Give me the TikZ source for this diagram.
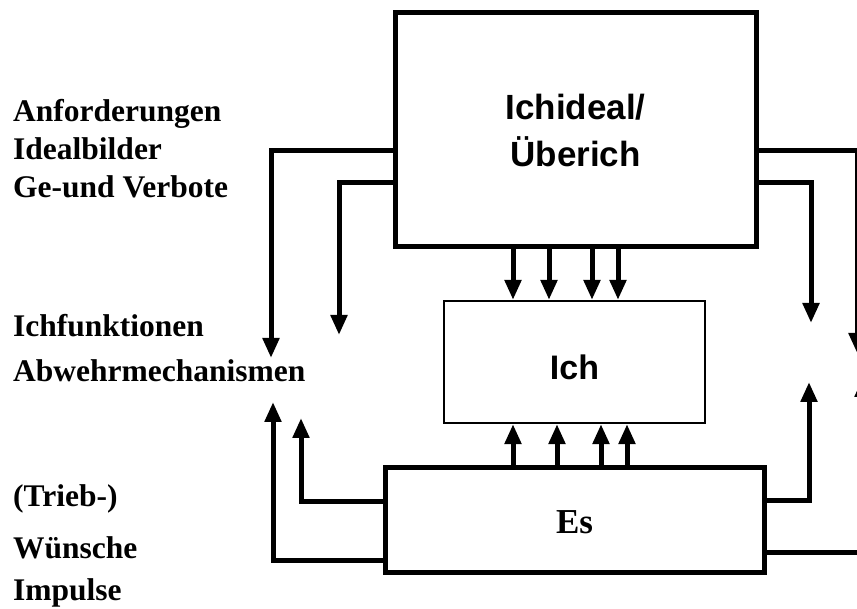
\documentclass[tikz,border=0pt]{standalone}
\usepackage{fontspec}
\setmainfont{Liberation Serif}
\newfontfamily\serifw{Liberation Serif}
\newfontfamily\sansw{Liberation Sans}
\usetikzlibrary{arrows.meta}
\begin{document}
\begin{tikzpicture}[x=1pt,y=-1pt,
  conn/.style={line width=5pt},
  arr/.style={conn,-{Triangle[width=16pt,length=20pt]}},
  lab/.style={anchor=base west,inner sep=0pt,font=\serifw\bfseries\fontsize{31.5}{34}\selectfont},
  box/.style={draw,inner sep=0pt}
]
\clip (0,0) rectangle (857,609);
\fill[white] (0,0) rectangle (857,609);

% boxes
\node[box,line width=5pt,minimum width=361pt,minimum height=234pt,align=center,
  font=\sansw\bfseries\fontsize{35}{47}\selectfont] (uber) at (575.5,130) {Ichideal/\\Überich};
\node[box,line width=2.2pt,minimum width=261pt,minimum height=122pt,text height=36pt,text depth=0pt,
  font=\sansw\bfseries\fontsize{34}{40}\selectfont] (ich) at (574.5,362) {Ich};
\node[box,line width=5pt,minimum width=379pt,minimum height=105pt,text height=27pt,text depth=0pt,
  font=\serifw\bfseries\fontsize{35}{40}\selectfont] (es) at (574.5,519.5) {Es};

% labels
\node[lab] (t1) at (13,122) {Anforderungen};
\node[lab] (t2) at (13,160) {Idealbilder};
\node[lab] (t3) at (13,198) {Ge-und Verbote};
\node[lab] (t4) at (13,337) {Ichfunktionen};
\node[lab] (t5) at (13,382) {Abwehrmechanismen};
\node[lab] (t6) at (13,506) {(Trieb-)};
\node[lab] (t7) at (13,558) {Wünsche};
\node[lab] (t8) at (13,600) {Impulse};

% columns between boxes
\coordinate (d1) at (513,0);
\coordinate (d2) at (549,0);
\coordinate (d3) at (592,0);
\coordinate (d4) at (618,0);
\coordinate (u1) at (513,0);
\coordinate (u2) at (557,0);
\coordinate (u3) at (601,0);
\coordinate (u4) at (627,0);
\foreach \c in {d1,d2,d3,d4}
  \draw[arr] (uber.south -| \c) -- (ich.north -| \c);
\foreach \c in {u1,u2,u3,u4}
  \draw[arr] (es.north -| \c) -- (ich.south -| \c);

% free ends and levels
\coordinate (h1) at (0,151);
\coordinate (h2) at (0,183);
\coordinate (h3) at (0,501);
\coordinate (h4) at (0,560);
\coordinate (h5) at (0,500);
\coordinate (h6) at (0,552);
\coordinate (L1) at (271,358);
\coordinate (L2) at (339,335);
\coordinate (L3) at (301,418);
\coordinate (L4) at (273,402);
\coordinate (R1) at (857,353);
\coordinate (R2) at (811,323);
\coordinate (R3) at (809,382);
\coordinate (R4) at (863,377);

\draw[arr] (uber.west |- h1) -| (L1);
\draw[arr] (uber.west |- h2) -| (L2);
\draw[arr] (es.west |- h3) -| (L3);
\draw[arr] (es.west |- h4) -| (L4);
\draw[arr] (uber.east |- h1) -| (R1);
\draw[arr] (uber.east |- h2) -| (R2);
\draw[arr] (es.east |- h5) -| (R3);
\draw[arr] (es.east |- h6) -| (R4);
\end{tikzpicture}
\end{document}
